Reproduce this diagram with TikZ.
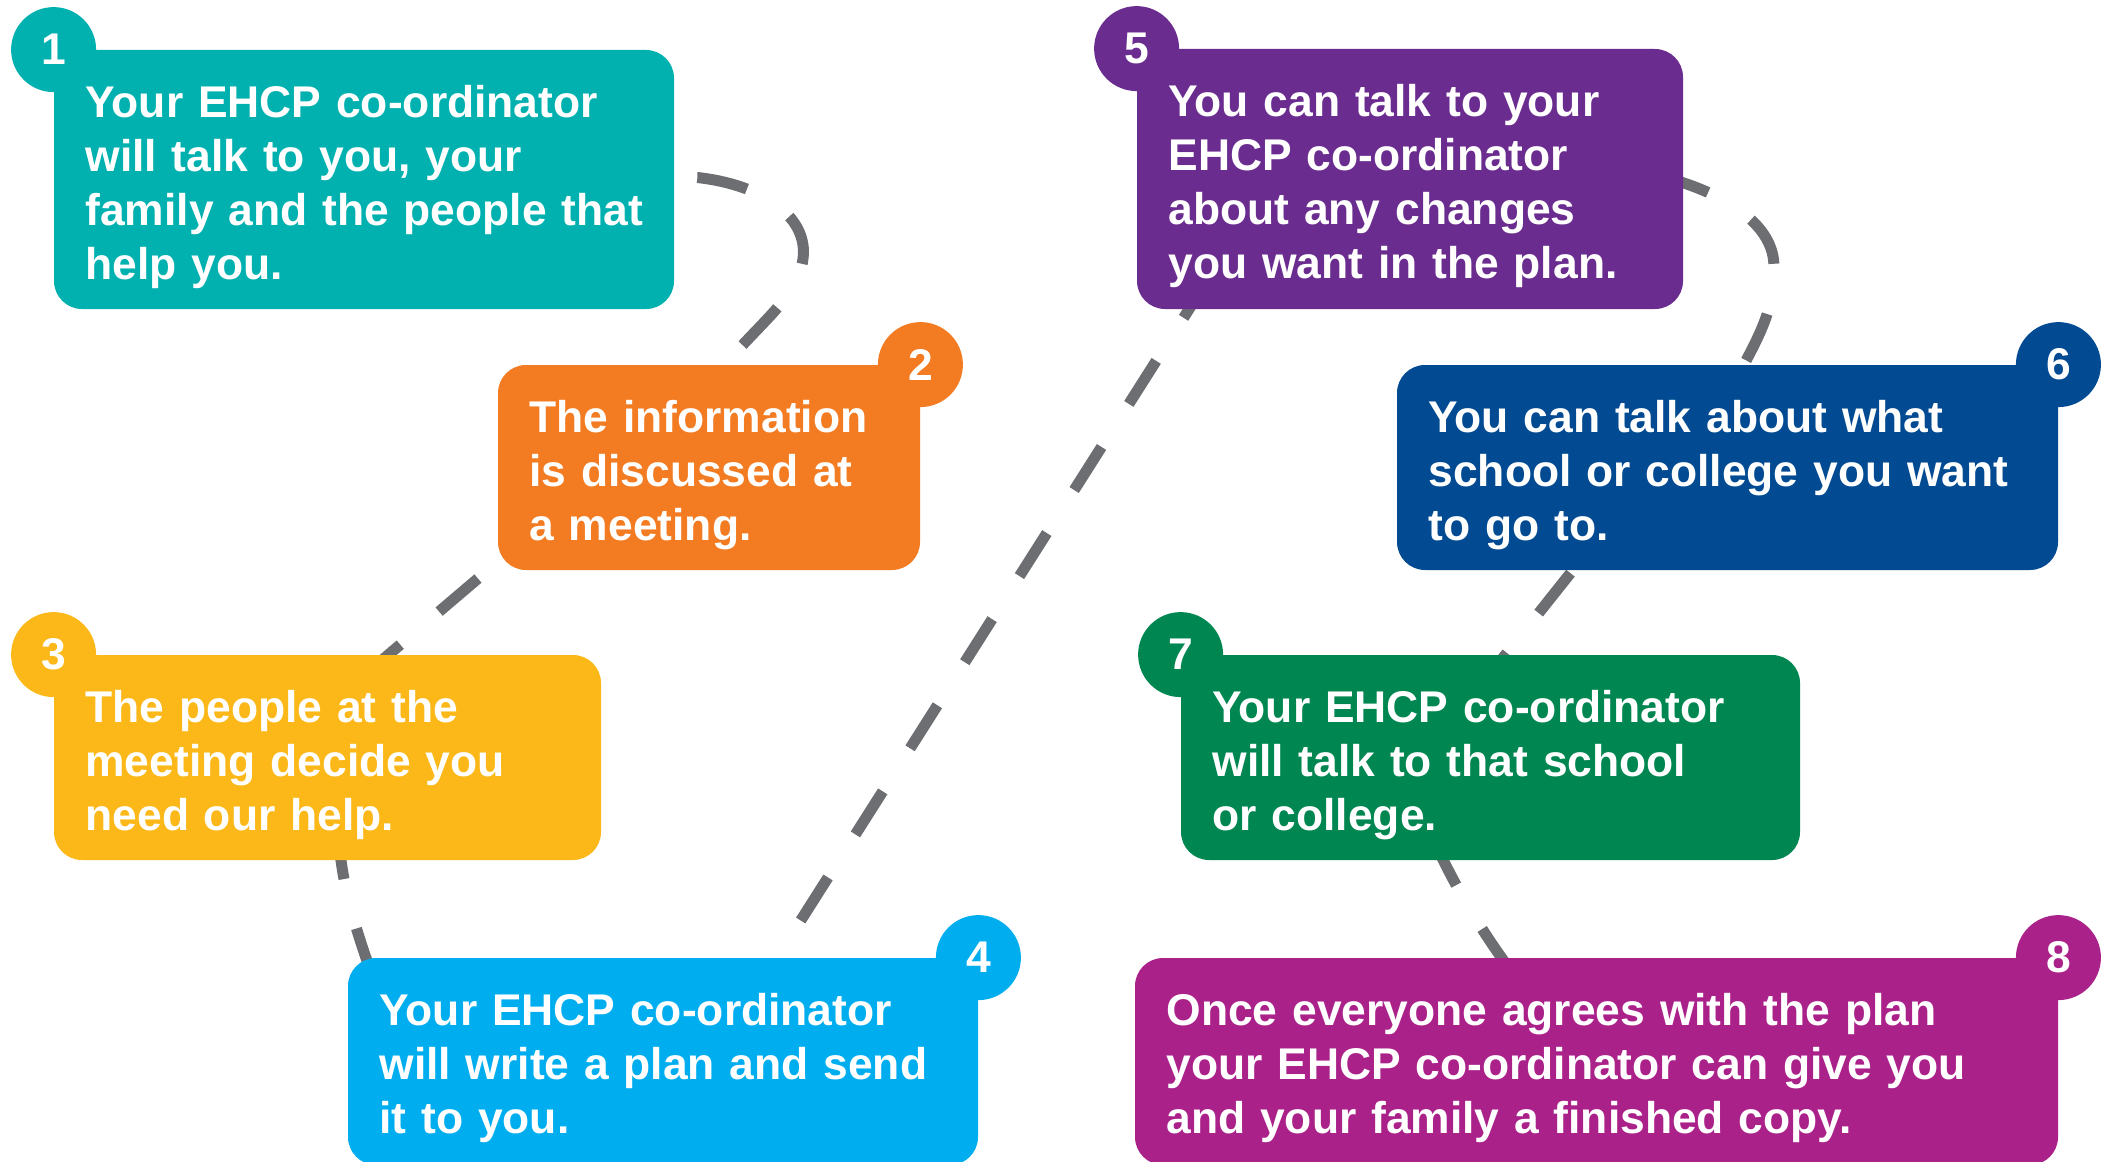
\documentclass[tikz,border=0pt]{standalone}
\usepackage{fontspec}
\setmainfont{Liberation Sans}
\usetikzlibrary{fit,backgrounds}

\definecolor{ehcpteal}{RGB}{0,177,176}
\definecolor{ehcporange}{RGB}{243,123,33}
\definecolor{ehcpyellow}{RGB}{251,184,24}
\definecolor{ehcpsky}{RGB}{0,174,239}
\definecolor{ehcppurple}{RGB}{106,45,143}
\definecolor{ehcpnavy}{RGB}{2,74,145}
\definecolor{ehcpgreen}{RGB}{0,134,81}
\definecolor{ehcpmagenta}{RGB}{170,33,138}
\definecolor{trailgray}{RGB}{109,110,114}

\newcommand{\cardfont}{\fontsize{22.2pt}{27.1pt}\selectfont\bfseries}

\tikzset{
  card/.style={fill=#1, rounded corners=14pt, inner sep=0pt},
  badge/.style={circle, fill=#1, minimum size=42.5pt, inner sep=0pt,
    text=white, font=\cardfont},
  cardtext/.style={text=white, font=\cardfont, align=left, text width=420pt,
    inner sep=0pt, anchor=base west},
  trail/.style={draw=trailgray, line width=5.5pt, dash pattern=on 25.5pt off 25.5pt},
}

\begin{document}
\begin{tikzpicture}[x=0.5pt, y=-0.5pt]
  \useasboundingbox (0,0) rectangle (2113,1161);
  \clip (0,0) rectangle (2113,1161);

  \node[card=ehcpteal, fit={(54,50) (674,309)}] (b1) {};
  \node[card=ehcporange, fit={(498,365) (920,570)}] (b2) {};
  \node[card=ehcpyellow, fit={(54,655) (601,860)}] (b3) {};
  \node[card=ehcpsky, fit={(348,958) (978,1165)}] (b4) {};
  \node[card=ehcppurple, fit={(1137,49) (1683,309)}] (b5) {};
  \node[card=ehcpnavy, fit={(1397,365) (2058,570)}] (b6) {};
  \node[card=ehcpgreen, fit={(1181,655) (1800,860)}] (b7) {};
  \node[card=ehcpmagenta, fit={(1135,958) (2058,1165)}] (b8) {};

  \node[badge=ehcpteal] (n1) at (b1.north west) {1};
  \node[badge=ehcporange] (n2) at (b2.north east) {2};
  \node[badge=ehcpyellow] (n3) at (b3.north west) {3};
  \node[badge=ehcpsky] (n4) at (b4.north east) {4};
  \node[badge=ehcppurple] (n5) at (b5.north west) {5};
  \node[badge=ehcpnavy] (n6) at (b6.north east) {6};
  \node[badge=ehcpgreen] (n7) at (b7.north west) {7};
  \node[badge=ehcpmagenta] (n8) at (b8.north east) {8};

  \node[cardtext] (t1) at ([xshift=15.75pt,yshift=-33.75pt]b1.north west)
    {Your EHCP co-ordinator\\will talk to you, your\\family and the people that\\help you.};
  \node[cardtext] (t2) at ([xshift=15.75pt,yshift=-33.75pt]b2.north west)
    {The information\\is discussed at\\a meeting.};
  \node[cardtext] (t3) at ([xshift=15.75pt,yshift=-33.75pt]b3.north west)
    {The people at the\\meeting decide you\\need our help.};
  \node[cardtext] (t4) at ([xshift=15.75pt,yshift=-33.75pt]b4.north west)
    {Your EHCP co-ordinator\\will write a plan and send\\it to you.};
  \node[cardtext] (t5) at ([xshift=15.75pt,yshift=-33.75pt]b5.north west)
    {You can talk to your\\EHCP co-ordinator\\about any changes\\you want in the plan.};
  \node[cardtext] (t6) at ([xshift=15.75pt,yshift=-33.75pt]b6.north west)
    {You can talk about what\\school or college you want\\to go to.};
  \node[cardtext] (t7) at ([xshift=15.75pt,yshift=-33.75pt]b7.north west)
    {Your EHCP co-ordinator\\will talk to that school\\or college.};
  \node[cardtext] (t8) at ([xshift=15.75pt,yshift=-33.75pt]b8.north west)
    {Once everyone agrees with the plan\\your EHCP co-ordinator can give you\\and your family a finished copy.};

  % dashed trail behind the cards
  \begin{scope}[on background layer]
    \draw[trail] ([xshift=-39.5pt]b1.east) -- ++(102,-2)
      .. controls +(63,7) and +(2,-40) .. ++(106,77)
      .. controls +(-3,45) and +(45,-60) .. ([yshift=-10pt]b2.north);
    \draw[trail] ([xshift=29pt,yshift=29pt]b2.south west) -- ([yshift=-26pt]b3.north);
    \draw[trail] ([xshift=5.5pt,yshift=16pt]b3.south)
      .. controls +(1,60) and +(-22,-60) .. ([xshift=18.5pt,yshift=-26pt]b4.north west);
    \draw[trail] ([xshift=41.5pt,yshift=-24.5pt]b4.north) -- ([xshift=29pt,yshift=4.5pt]b5.south west);
    \draw[trail] ([xshift=-11.75pt,yshift=1.5pt]b5.east)
      .. controls +(56,14) and +(-1,-45) .. ++(114,89)
      .. controls +(2,45) and +(30,-55) .. ([yshift=-15pt]b6.north);
    \draw[trail] ([xshift=-46.75pt,yshift=38.5pt]b6.south) -- ([xshift=-10.4pt,yshift=-22.5pt]b7.north);
    \draw[trail] ([xshift=126.5pt,yshift=10.5pt]b7.south west)
      .. controls +(18,41) and +(-45,-55) .. ([xshift=197.5pt,yshift=-18.5pt]b8.north west);
  \end{scope}
\end{tikzpicture}
\end{document}
